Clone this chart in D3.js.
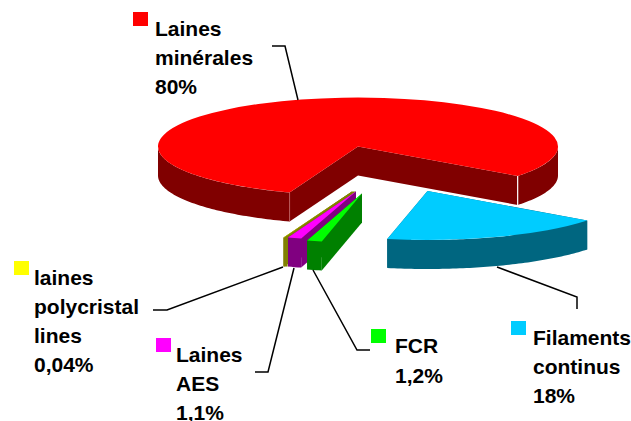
<!DOCTYPE html>
<html>
<head>
<meta charset="utf-8">
<script src="https://cdn.jsdelivr.net/npm/d3@7"></script>
<style>
  html, body { margin: 0; padding: 0; background: #fff; overflow: hidden; }
  svg { display: block; }
  text { font-family: "Liberation Sans", Arial, sans-serif; font-weight: bold; font-size: 21px; fill: #000; }
</style>
</head>
<body>
<script>
// Chart values
const names = ["Laines minérales", "Filaments continus", "FCR", "Laines AES", "laines polycristallines"];
const shares = [80, 18, 1.2, 1.1, 0.04];
const topColors = ["#ff0000", "#00ccff", "#00ff00", "#ff00ff", "#ffff00"];
const wallColors = ["#800000", "#006680", "#008000", "#800080", "#808000"];
const labelLines = [
  ["Laines", "minérales", "80%"],
  ["Filaments", "continus", "18%"],
  ["FCR", "1,2%"],
  ["Laines", "AES", "1,1%"],
  ["laines", "polycristal", "lines", "0,04%"]
];

// Layout
const width = 631;
const height = 421;
const cx = 358;
const cy = 146.5;
const radius = 200;
const squash = 0.245;
const depth = 29;
const explode = [[0, 0], [69.5, 44.5], [4, 47], [-2, 45], [-6, 45]];
const labelPos = [[155, 36], [533, 345], [395, 353], [176, 362], [34, 285]];
const labelStep = [29, 29, 30, 29, 29];
const keyPos = [[133, 12], [511, 321], [371, 329], [156, 338], [14, 261]];
const leaders = [
  [[272, 46], [285, 46], [298, 100]],
  [[497, 267], [577, 297], [577, 309]],
  [[313, 270], [357, 350], [370, 350]],
  [[294, 268], [268, 372], [255, 372]],
  [[283, 267], [167, 310], [153, 310]]
];

const rad = d => d * Math.PI / 180;

const pie = d3.pie().sort(null)
  .startAngle(rad(200))
  .endAngle(rad(200 + 360));
const slices = pie(shares);

const arc = d3.arc().innerRadius(0).outerRadius(radius);
const line = d3.line();

const svg = d3.select("body").append("svg")
  .attr("width", width)
  .attr("height", height)
  .attr("viewBox", [0, 0, width, height]);

// point on the rim of the flattened pie
function rim(a, i, drop = 0) {
  const p = d3.pointRadial(a, radius);
  return [cx + explode[i][0] + p[0], cy + explode[i][1] + p[1] * squash + drop];
}
function apex(i, drop = 0) {
  return [cx + explode[i][0], cy + explode[i][1] + drop];
}

// outer wall, only the runs of the arc that face the viewer
function frontRuns(d) {
  const runs = [[rad(90), rad(270)], [rad(450), rad(630)]];
  return runs
    .map(r => [Math.max(r[0], d.startAngle), Math.min(r[1], d.endAngle)])
    .filter(r => r[1] > r[0]);
}
function outerWall(run, i) {
  const n = Math.max(2, Math.ceil((run[1] - run[0]) / rad(1)));
  const angles = d3.range(n + 1).map(k => run[0] + (run[1] - run[0]) * k / n);
  const upper = angles.map(a => rim(a, i));
  const lower = angles.slice().reverse().map(a => rim(a, i, depth));
  return line(upper.concat(lower)) + "Z";
}
function sideWall(a, i) {
  return line([apex(i), rim(a, i), rim(a, i, depth), apex(i, depth)]) + "Z";
}

// drawn back to front: red, cyan, then the thin yellow, magenta, green ones
[0, 1, 4, 3, 2].forEach(i => {
  const d = slices[i];
  const g = svg.append("g");

  [d.startAngle, d.endAngle].forEach(a => {
    g.append("path").attr("d", sideWall(a, i)).attr("fill", wallColors[i]);
  });
  frontRuns(d).forEach(run => {
    g.append("path").attr("d", outerWall(run, i)).attr("fill", wallColors[i]);
  });

  // the 0,04% slice is too thin to see: its olive edge fills the gap up to the magenta one
  if (i === 4) {
    const a = d.endAngle;
    g.append("path")
      .attr("d", line([apex(4), rim(a, 4), rim(a, 3), apex(3)]) + "Z")
      .attr("fill", wallColors[4]);
    g.append("path")
      .attr("d", line([rim(a, 4), rim(a, 3), rim(a, 3, depth), rim(a, 4, depth)]) + "Z")
      .attr("fill", wallColors[4]);
  }

  g.append("path")
    .attr("d", arc(d))
    .attr("transform", `translate(${apex(i)}) scale(1,${squash})`)
    .attr("fill", topColors[i]);
});

// light edges on the red slice
const red = slices[0];
svg.append("path")
  .attr("d", line([rim(red.endAngle, 0), rim(red.endAngle, 0, depth)]))
  .attr("stroke", "#fff").attr("stroke-width", 1.2).attr("fill", "none");
svg.append("path")
  .attr("d", line([rim(red.startAngle, 0), rim(red.startAngle, 0, depth)]))
  .attr("stroke", "#c06060").attr("stroke-width", 0.8).attr("fill", "none");

// leader lines
svg.append("g")
  .selectAll("path")
  .data(leaders)
  .join("path")
    .attr("d", d => line(d))
    .attr("fill", "none")
    .attr("stroke", "#000")
    .attr("stroke-width", 1.5);

// colour keys
svg.append("g")
  .selectAll("rect")
  .data(names)
  .join("rect")
    .attr("x", (d, i) => keyPos[i][0])
    .attr("y", (d, i) => keyPos[i][1])
    .attr("width", 15)
    .attr("height", 14)
    .attr("fill", (d, i) => topColors[i]);

// labels
labelLines.forEach((lines, i) => {
  svg.append("g")
    .selectAll("text")
    .data(lines)
    .join("text")
      .attr("x", labelPos[i][0])
      .attr("y", (d, k) => labelPos[i][1] + k * labelStep[i])
      .text(d => d);
});
</script>
</body>
</html>
